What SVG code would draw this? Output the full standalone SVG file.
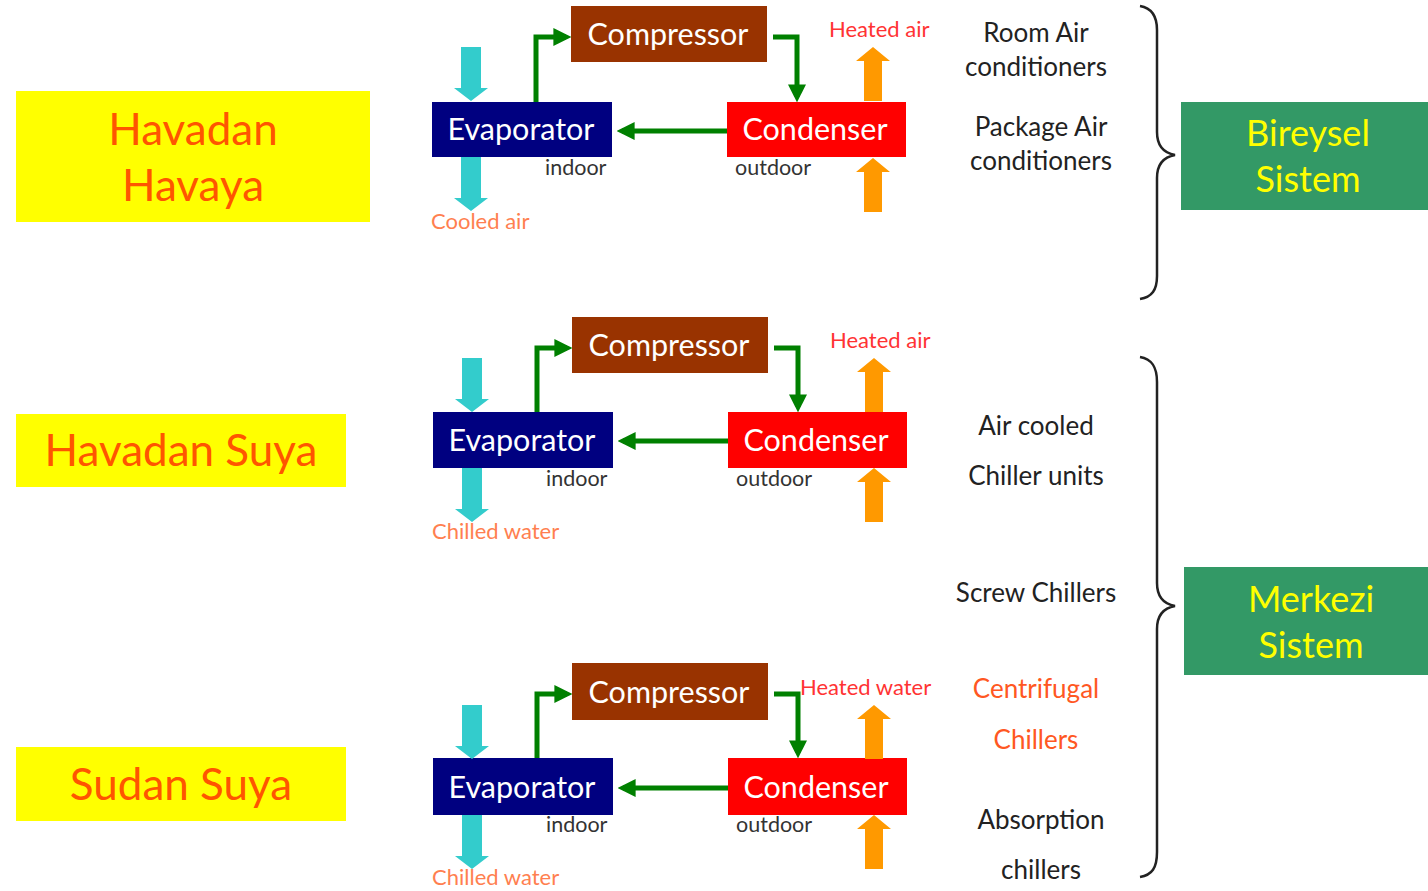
<svg xmlns="http://www.w3.org/2000/svg" width="1428" height="891" viewBox="0 0 1428 891">
<style>
text{font-family:Lato,"Open Sans","Liberation Sans",sans-serif;}
.lbl{fill:#ffff00;}
.lblt{fill:#ff5500;font-size:44px;text-anchor:middle;}
.box{font-size:30.5px;fill:#ffffff;text-anchor:middle;}
.sm{font-size:21.5px;fill:#333333;}
.hot{font-size:22px;fill:#ff3333;}
.cold{font-size:22px;fill:#ff7f50;}
.rt{font-size:26px;fill:#222222;text-anchor:middle;}
.rto{font-size:26px;fill:#ff5722;text-anchor:middle;}
.sys{fill:#339966;}
.syst{font-size:36px;fill:#ffff00;text-anchor:middle;}
.flow{fill:none;stroke:#008000;stroke-width:5;marker-end:url(#ah);}
.brace{fill:none;stroke:#222222;stroke-width:2.5;}
.cy{fill:#33cccc;}
.or{fill:#ff9900;}
</style>
<defs>
<marker id="ah" viewBox="0 0 10 10" refX="7" refY="5" markerWidth="3.6" markerHeight="3.6" orient="auto" markerUnits="strokeWidth">
<path d="M0,0 L10,5 L0,10 z" fill="#008000"/>
</marker>
<polygon id="down" points="-10,0 10,0 10,41 17,41 0,54 -17,41 -10,41"/>
<polygon id="up" points="0,0 17,14 9,14 9,54 -9,54 -9,14 -17,14"/>
</defs>

<g id="label-havaya">
<rect x="16" y="91" width="354" height="131" class="lbl"/>
<text x="193" y="145" class="lblt">Havadan</text>
<text x="193" y="201" class="lblt">Havaya</text>
</g>
<g id="label-havadan-suya">
<rect x="16" y="414" width="330" height="73" class="lbl"/>
<text x="181" y="466" class="lblt">Havadan Suya</text>
</g>
<g id="label-sudan-suya">
<rect x="16" y="747" width="330" height="74" class="lbl"/>
<text x="181" y="800" class="lblt">Sudan Suya</text>
</g>

<g id="cycle1">
<g id="compressor1"><rect x="571" y="6" width="196" height="56" fill="#993300"/><text x="668" y="45" class="box">Compressor</text></g>
<g id="evaporator1"><rect x="432" y="102" width="180" height="55" fill="#000080"/><text x="521" y="140" class="box">Evaporator</text></g>
<g id="condenser1"><rect x="727" y="102" width="179" height="55" fill="#ff0000"/><text x="815" y="140" class="box">Condenser</text></g>
<use href="#down" x="471" y="47" class="cy"/>
<use href="#down" x="471" y="157" class="cy"/>
<use href="#up" x="873" y="47" class="or"/>
<use href="#up" x="873" y="158" class="or"/>
<text x="829" y="37" class="hot">Heated air</text>
<text x="545" y="175" class="sm">indoor</text>
<text x="735" y="175" class="sm">outdoor</text>
<text x="431" y="229" class="cold">Cooled air</text>
</g>

<g id="cycle2">
<g id="compressor2"><rect x="572" y="317" width="196" height="56" fill="#993300"/><text x="669" y="356" class="box">Compressor</text></g>
<g id="evaporator2"><rect x="433" y="412" width="180" height="56" fill="#000080"/><text x="522" y="451" class="box">Evaporator</text></g>
<g id="condenser2"><rect x="728" y="412" width="179" height="56" fill="#ff0000"/><text x="816" y="451" class="box">Condenser</text></g>
<use href="#down" x="472" y="358" class="cy"/>
<use href="#down" x="472" y="468" class="cy"/>
<use href="#up" x="874" y="358" class="or"/>
<use href="#up" x="874" y="468" class="or"/>
<text x="830" y="348" class="hot">Heated air</text>
<text x="546" y="486" class="sm">indoor</text>
<text x="736" y="486" class="sm">outdoor</text>
<text x="432" y="539" class="cold">Chilled water</text>
</g>

<g id="cycle3">
<g id="compressor3"><rect x="572" y="663" width="196" height="57" fill="#993300"/><text x="669" y="703" class="box">Compressor</text></g>
<g id="evaporator3"><rect x="433" y="758" width="180" height="57" fill="#000080"/><text x="522" y="798" class="box">Evaporator</text></g>
<g id="condenser3"><rect x="728" y="758" width="179" height="57" fill="#ff0000"/><text x="816" y="798" class="box">Condenser</text></g>
<use href="#down" x="472" y="705" class="cy"/>
<use href="#down" x="472" y="815" class="cy"/>
<use href="#up" x="874" y="705" class="or"/>
<use href="#up" x="874" y="815" class="or"/>
<text x="800" y="695" class="hot">Heated water</text>
<text x="546" y="832" class="sm">indoor</text>
<text x="736" y="832" class="sm">outdoor</text>
<text x="432" y="885" class="cold">Chilled water</text>
</g>

<g id="connectors">
<path class="flow" d="M536,102 V37 H566"/>
<path class="flow" d="M773,37 H797 V97"/>
<path class="flow" d="M727,131 H622"/>
<path class="flow" d="M537,412 V348 H567"/>
<path class="flow" d="M774,348 H798 V407"/>
<path class="flow" d="M728,441 H623"/>
<path class="flow" d="M537,758 V694 H567"/>
<path class="flow" d="M774,694 H798 V753"/>
<path class="flow" d="M728,788 H623"/>
</g>

<g id="list-bireysel">
<text x="1036" y="42" class="rt">Room Air</text>
<text x="1036" y="76" class="rt">conditioners</text>
<text x="1041" y="136" class="rt">Package Air</text>
<text x="1041" y="170" class="rt">conditioners</text>
</g>
<g id="list-merkezi">
<text x="1036" y="435" class="rt">Air cooled</text>
<text x="1036" y="485" class="rt">Chiller units</text>
<text x="1036" y="602" class="rt">Screw Chillers</text>
<text x="1036" y="698" class="rto">Centrifugal</text>
<text x="1036" y="749" class="rto">Chillers</text>
<text x="1041" y="829" class="rt">Absorption</text>
<text x="1041" y="879" class="rt">chillers</text>
</g>

<g id="brace1"><path class="brace" d="M1140,6 C1152,8 1157,16 1157,30 V132 C1157,146 1164,153 1175,155 C1164,157 1157,164 1157,178 V276 C1157,290 1152,297 1140,299"/></g>
<g id="brace2"><path class="brace" d="M1140,357 C1152,359 1157,367 1157,382 V583 C1157,597 1164,604 1175,606 C1164,608 1157,615 1157,629 V852 C1157,868 1152,875 1140,877"/></g>

<g id="bireysel">
<rect x="1181" y="102" width="247" height="108" class="sys"/>
<text x="1308" y="146" class="syst">Bireysel</text>
<text x="1308" y="192" class="syst">Sistem</text>
</g>
<g id="merkezi">
<rect x="1184" y="567" width="244" height="108" class="sys"/>
<text x="1311" y="612" class="syst">Merkezi</text>
<text x="1311" y="658" class="syst">Sistem</text>
</g>
</svg>
